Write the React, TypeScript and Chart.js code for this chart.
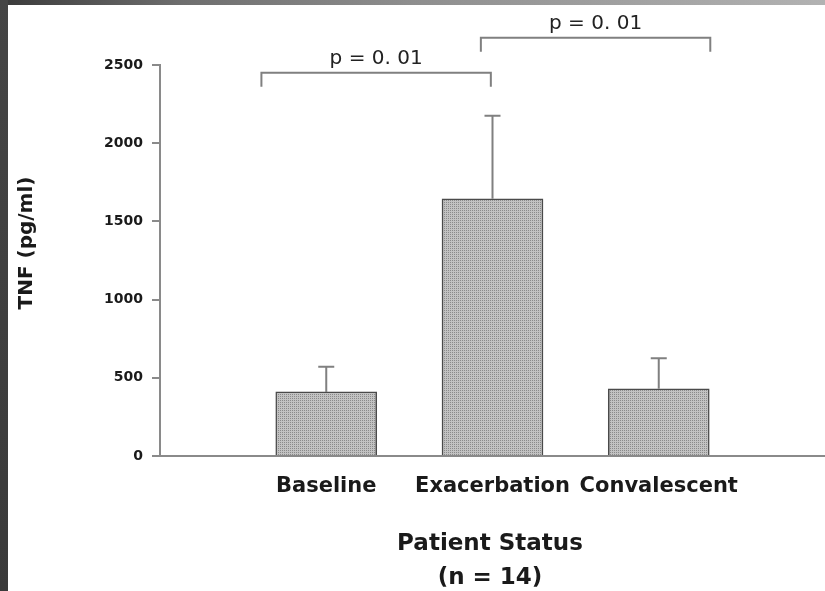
import { useEffect, useRef } from 'react';
import { Chart, registerables } from 'chart.js';

Chart.register(...registerables);

const categories = ['Baseline', 'Exacerbation', 'Convalescent'];
const meanValues = [410, 1645, 430];
const errorTops = [570, 2175, 625];
const yTicks = [0, 500, 1000, 1500, 2000, 2500];
const yTitle = 'TNF (pg/ml)';
const xTitleLines = ['Patient Status', '(n = 14)'];
const bracketFrom = [0.61, 1.93];
const bracketTo = [1.99, 3.31];
const bracketLevel = [2450, 2675];
const bracketLabels = ['p = 0. 01', 'p = 0. 01'];

const FONT = '"DejaVu Sans", "Liberation Sans", Arial, sans-serif';
const AXIS_GRAY = '#8a8a8a';
const TEXT = '#1a1a1a';

export default function App() {
  const ref = useRef<HTMLCanvasElement | null>(null);

  useEffect(() => {
    const canvas = ref.current;
    if (!canvas) return;

    const pc = document.createElement('canvas');
    pc.width = 2;
    pc.height = 2;
    const pctx = pc.getContext('2d')!;
    pctx.fillStyle = '#c2c2c2';
    pctx.fillRect(0, 0, 2, 2);
    pctx.fillStyle = '#8a8a8a';
    pctx.fillRect(0, 0, 1, 1);
    const pattern = canvas.getContext('2d')!.createPattern(pc, 'repeat')!;

    const overlay = {
      id: 'overlay',
      afterDatasetsDraw(chart: any) {
        const ctx = chart.ctx;
        const ys = chart.scales.y;
        const meta = chart.getDatasetMeta(0);
        ctx.save();
        ctx.strokeStyle = '#808080';
        ctx.lineWidth = 2;
        errorTops.forEach((top, i) => {
          const bar = meta.data[i + 1];
          const x = bar.x;
          const y0 = ys.getPixelForValue(meanValues[i]);
          const y1 = ys.getPixelForValue(top);
          ctx.beginPath();
          ctx.moveTo(x, y0);
          ctx.lineTo(x, y1);
          ctx.moveTo(x - 8, y1);
          ctx.lineTo(x + 8, y1);
          ctx.stroke();
        });
        ctx.restore();
      },
      afterDraw(chart: any) {
        const ctx = chart.ctx;
        const xs = chart.scales.x;
        const ys = chart.scales.y;
        ctx.save();
        ctx.strokeStyle = '#808080';
        ctx.lineWidth = 2;
        ctx.fillStyle = '#222';
        ctx.font = `20px ${FONT}`;
        ctx.textAlign = 'center';
        ctx.textBaseline = 'alphabetic';
        bracketLabels.forEach((label, i) => {
          const x0 = xs.getPixelForValue(bracketFrom[i]);
          const x1 = xs.getPixelForValue(bracketTo[i]);
          const yl = ys.getPixelForValue(bracketLevel[i]);
          ctx.beginPath();
          ctx.moveTo(x0, yl + 14);
          ctx.lineTo(x0, yl);
          ctx.lineTo(x1, yl);
          ctx.lineTo(x1, yl + 14);
          ctx.stroke();
          ctx.fillText(label, (x0 + x1) / 2, yl - 9);
        });
        ctx.fillStyle = TEXT;
        ctx.font = `bold 20px ${FONT}`;
        ctx.textBaseline = 'middle';
        ctx.save();
        ctx.translate(27, 243);
        ctx.rotate(-Math.PI / 2);
        ctx.fillText(yTitle, 0, 0);
        ctx.restore();
        ctx.font = `bold 23px ${FONT}`;
        xTitleLines.forEach((line, i) => {
          ctx.fillText(line, 490, 544 + i * 34);
        });
        ctx.restore();
      },
    };

    const chart = new Chart(canvas, {
      type: 'bar',
      data: {
        labels: ['', ...categories, ''],
        datasets: [
          {
            data: [null, ...meanValues, null],
            backgroundColor: pattern,
            borderColor: '#4a4a4a',
            borderWidth: 1.5,
            barThickness: 101,
          },
        ],
      },
      options: {
        responsive: false,
        animation: false,
        devicePixelRatio: 1,
        layout: { padding: { top: 65, left: 0, right: 0, bottom: 0 } },
        plugins: {
          legend: { display: false },
          tooltip: { enabled: false },
        },
        scales: {
          x: {
            offset: false,
            grid: { display: false, drawTicks: false },
            border: { display: true, color: AXIS_GRAY, width: 2 },
            ticks: {
              autoSkip: false,
              maxRotation: 0,
              minRotation: 0,
              padding: 18,
              color: TEXT,
              font: { family: FONT, size: 21, weight: 'bold' },
            },
            afterFit: (s: any) => {
              s.height = 135;
              s.paddingLeft = 0;
              s.paddingRight = 0;
            },
          },
          y: {
            min: 0,
            max: 2500,
            grid: {
              drawOnChartArea: false,
              drawTicks: true,
              tickLength: 8,
              color: AXIS_GRAY,
              lineWidth: 2,
            },
            border: { display: true, color: AXIS_GRAY, width: 2 },
            ticks: {
              padding: 9,
              color: TEXT,
              font: { family: FONT, size: 14, weight: 'bold' },
              callback: (v: any) => String(v),
            },
            afterBuildTicks: (s: any) => {
              s.ticks = yTicks.map((v) => ({ value: v }));
            },
            afterFit: (s: any) => {
              s.width = 160;
            },
          },
        },
      },
      plugins: [overlay],
    } as any);

    return () => chart.destroy();
  }, []);

  return (
    <div
      style={{
        position: 'fixed',
        left: 0,
        top: 0,
        width: 825,
        height: 591,
        background: '#ffffff',
        overflow: 'hidden',
      }}
    >
      <canvas ref={ref} width={825} height={591} style={{ position: 'absolute', left: 0, top: 0 }} />
      <div
        style={{
          position: 'absolute',
          left: 0,
          top: 0,
          width: 825,
          height: 5,
          background: 'linear-gradient(to right, #3a3a3a 0%, #6e6e6e 22%, #8e8e8e 50%, #a4a4a4 80%, #b2b2b2 100%)',
        }}
      />
      <div
        style={{
          position: 'absolute',
          left: 0,
          top: 0,
          width: 8,
          height: 591,
          background: 'linear-gradient(to bottom, #454545, #3a3a3a)',
        }}
      />
    </div>
  );
}
